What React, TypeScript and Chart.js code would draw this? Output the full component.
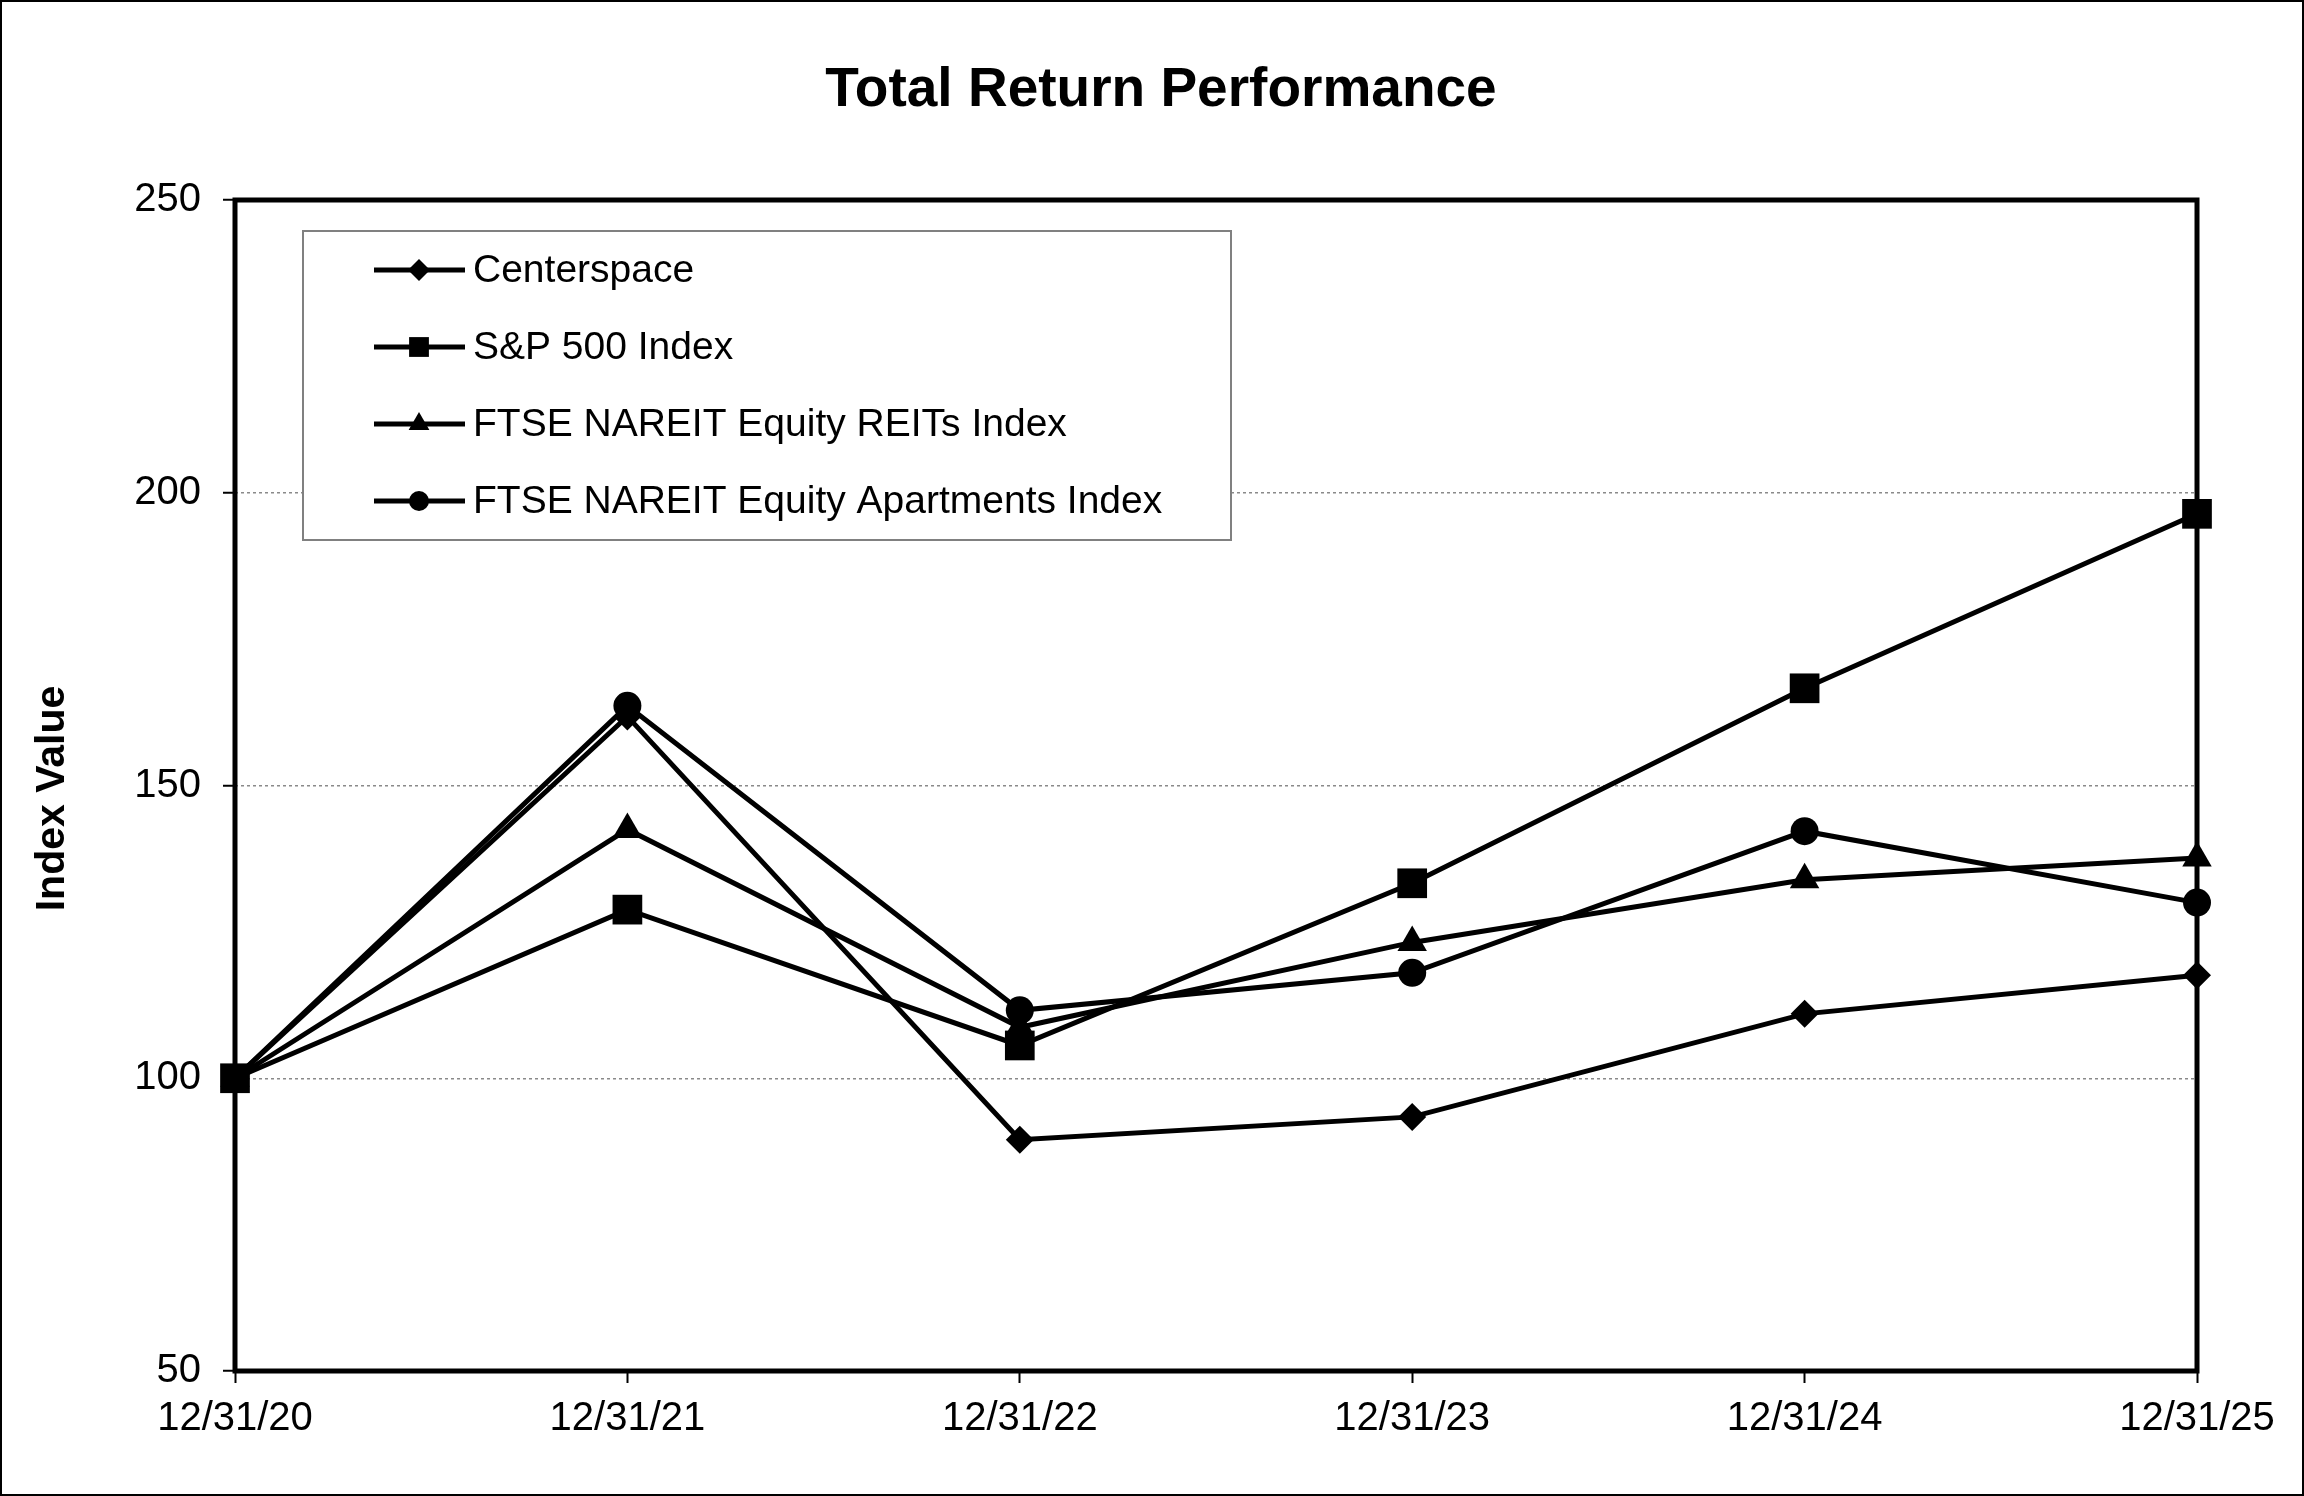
import React, { useEffect, useRef } from 'react';
import { Chart, registerables } from 'chart.js';

Chart.register(...registerables);

const chartTitle = 'Total Return Performance';
const yAxisTitle = 'Index Value';
const categories = ['12/31/20', '12/31/21', '12/31/22', '12/31/23', '12/31/24', '12/31/25'];
const seriesNames = [
  'Centerspace',
  'S&P 500 Index',
  'FTSE NAREIT Equity REITs Index',
  'FTSE NAREIT Equity Apartments Index',
];
const centerspace = [100, 161.8, 89.5, 93.4, 111.0, 117.6];
const sp500 = [100, 128.8, 105.6, 133.3, 166.6, 196.4];
const reits = [100, 142.5, 108.7, 123.2, 133.9, 137.6];
const apartments = [100, 163.6, 111.6, 118.0, 142.2, 130.0];
const yMin = 50;
const yMax = 250;
const yStep = 50;

const FONT = '"Liberation Sans", Arial, Helvetica, sans-serif';
const seriesValues = [centerspace, sp500, reits, apartments];
const markerStyles = ['rectRot', 'rect', 'triangle', 'circle'];
const markerRadii = [14, 21, 17, 14];
const legendRadii = [11, 14, 12, 10];

function drawMarker(ctx: CanvasRenderingContext2D, style: string, x: number, y: number, r: number) {
  ctx.beginPath();
  if (style === 'rectRot') {
    ctx.moveTo(x - r, y);
    ctx.lineTo(x, y - r);
    ctx.lineTo(x + r, y);
    ctx.lineTo(x, y + r);
    ctx.closePath();
  } else if (style === 'rect') {
    const s = Math.SQRT1_2 * r;
    ctx.rect(x - s, y - s, 2 * s, 2 * s);
  } else if (style === 'triangle') {
    let rad = 0;
    ctx.moveTo(x + Math.sin(rad) * r, y - Math.cos(rad) * r);
    rad += (2 * Math.PI) / 3;
    ctx.lineTo(x + Math.sin(rad) * r, y - Math.cos(rad) * r);
    rad += (2 * Math.PI) / 3;
    ctx.lineTo(x + Math.sin(rad) * r, y - Math.cos(rad) * r);
    ctx.closePath();
  } else {
    ctx.arc(x, y, r, 0, Math.PI * 2);
  }
  ctx.fill();
}

const framePlugin = {
  id: 'frame',
  beforeDraw(chart: any) {
    const { ctx, width, height, chartArea } = chart;
    ctx.save();
    ctx.fillStyle = '#ffffff';
    ctx.fillRect(0, 0, width, height);
    ctx.strokeStyle = '#000000';
    ctx.lineWidth = 2;
    ctx.strokeRect(1, 1, width - 2, height - 2);
    ctx.fillStyle = '#000000';
    ctx.font = `bold 55px ${FONT}`;
    ctx.textAlign = 'center';
    ctx.textBaseline = 'middle';
    ctx.fillText(chartTitle, 1161, 91);
    ctx.save();
    ctx.translate(53, (chartArea.top + chartArea.bottom) / 2 + 13);
    ctx.rotate(-Math.PI / 2);
    ctx.font = `bold 41px ${FONT}`;
    ctx.fillText(yAxisTitle, 0, 0);
    ctx.restore();
    ctx.restore();
  },
  beforeDatasetsDraw(chart: any) {
    const { ctx, chartArea } = chart;
    ctx.save();
    ctx.strokeStyle = '#000000';
    ctx.lineWidth = 5;
    ctx.strokeRect(chartArea.left, chartArea.top, chartArea.right - chartArea.left, chartArea.bottom - chartArea.top);
    ctx.restore();
  },
};

const legendPlugin = {
  id: 'boxLegend',
  afterDatasetsDraw(chart: any) {
    const { ctx, chartArea } = chart;
    const bx = chartArea.left + 68;
    const by = chartArea.top + 31;
    const bw = 928;
    const bh = 309;
    ctx.save();
    ctx.fillStyle = '#ffffff';
    ctx.fillRect(bx, by, bw, bh);
    ctx.strokeStyle = '#808080';
    ctx.lineWidth = 2;
    ctx.strokeRect(bx, by, bw, bh);
    chart.data.datasets.forEach((ds: any, i: number) => {
      const y = by + 39 + i * 77;
      ctx.strokeStyle = '#000000';
      ctx.lineWidth = 5;
      ctx.beginPath();
      ctx.moveTo(bx + 71, y);
      ctx.lineTo(bx + 162, y);
      ctx.stroke();
      ctx.fillStyle = '#000000';
      drawMarker(ctx, ds.pointStyle, bx + 116, y, legendRadii[i]);
      ctx.font = `39px ${FONT}`;
      ctx.textAlign = 'left';
      ctx.textBaseline = 'middle';
      ctx.fillText(ds.label, bx + 170, y + 1);
    });
    ctx.restore();
  },
};

export default function App() {
  const canvasRef = useRef<HTMLCanvasElement | null>(null);

  useEffect(() => {
    document.body.style.margin = '0';
    document.body.style.overflow = 'hidden';
    if (!canvasRef.current) return;
    Chart.defaults.font.family = FONT;
    Chart.defaults.color = '#000000';

    const chart = new Chart(canvasRef.current, {
      type: 'line',
      data: {
        labels: categories,
        datasets: seriesNames.map((name, i) => ({
          label: name,
          data: seriesValues[i],
          borderColor: '#000000',
          backgroundColor: '#000000',
          borderWidth: 5,
          pointStyle: markerStyles[i],
          pointRadius: markerRadii[i],
          pointBackgroundColor: '#000000',
          pointBorderColor: '#000000',
          pointBorderWidth: 0,
          tension: 0,
          fill: false,
          clip: false,
        })),
      },
      options: {
        animation: false,
        responsive: true,
        maintainAspectRatio: false,
        events: [],
        layout: { padding: { left: 0, right: 107, top: 200, bottom: 0 } },
        plugins: {
          legend: { display: false },
          title: { display: false },
          tooltip: { enabled: false },
        },
        scales: {
          x: {
            type: 'category',
            offset: false,
            border: { display: false },
            grid: {
              drawOnChartArea: false,
              drawTicks: true,
              tickLength: 12,
              tickColor: '#000000',
              tickWidth: 2,
              color: '#000000',
            },
            ticks: {
              font: { size: 40 },
              color: '#000000',
              padding: 12,
              maxRotation: 0,
              autoSkip: false,
            },
            afterFit(scale: any) {
              scale.height = 125;
            },
          },
          y: {
            min: yMin,
            max: yMax,
            border: { display: false, dash: [3, 3] },
            grid: {
              color: (ctx: any) =>
                ctx.tick && (ctx.tick.value === yMin || ctx.tick.value === yMax) ? 'rgba(0,0,0,0)' : '#8a8a8a',
              lineWidth: 1.5,
              tickLength: 12,
              tickColor: '#000000',
              tickWidth: 2,
              tickBorderDash: [],
            },
            ticks: {
              stepSize: yStep,
              font: { size: 40 },
              color: '#000000',
              padding: 22,
            },
            title: { display: false },
            afterFit(scale: any) {
              scale.width = 235;
            },
          },
        },
      },
      plugins: [framePlugin, legendPlugin],
    } as any);

    return () => chart.destroy();
  }, []);

  return (
    <div style={{ width: '2304px', height: '1496px', position: 'relative' }}>
      <canvas ref={canvasRef} />
    </div>
  );
}
